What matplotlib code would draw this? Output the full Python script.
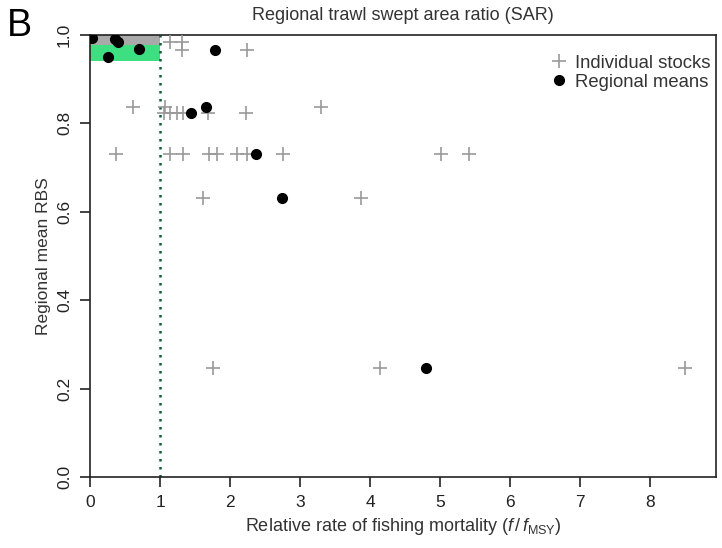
import matplotlib
matplotlib.use('Agg')
import matplotlib.pyplot as plt
from matplotlib.patches import Rectangle

plt.rcParams['font.family'] = ['Liberation Sans', 'DejaVu Sans']
plt.rcParams['mathtext.fontset'] = 'custom'
plt.rcParams['mathtext.rm'] = 'Liberation Sans'
plt.rcParams['mathtext.it'] = 'Liberation Sans:italic'

# individual stocks: relative fishing mortality vs regional mean RBS
stock_f = [1.14, 1.31, 1.31, 2.24,
           0.61, 1.07, 1.05, 1.14, 1.24, 1.33, 1.69, 2.23, 3.30,
           0.37, 1.14, 1.33, 1.70, 1.81, 2.10, 2.24, 2.75, 5.01, 5.41,
           1.61, 3.87,
           1.76, 4.14, 8.50]
stock_rbs = [0.985, 0.985, 0.966, 0.966,
             0.836, 0.838, 0.824, 0.824, 0.824, 0.824, 0.824, 0.824, 0.836,
             0.731, 0.731, 0.731, 0.731, 0.731, 0.731, 0.731, 0.731, 0.731, 0.731,
             0.632, 0.632,
             0.246, 0.246, 0.246]

# regional means
region_f = [0.03, 0.36, 0.40, 0.70, 0.25, 1.78, 1.44, 1.66, 2.37, 2.74, 4.80]
region_rbs = [0.994, 0.990, 0.985, 0.968, 0.950, 0.966, 0.824, 0.836, 0.731, 0.632, 0.246]

x_ticks = [0, 1, 2, 3, 4, 5, 6, 7, 8]
y_ticks = [0.0, 0.2, 0.4, 0.6, 0.8, 1.0]

fig = plt.figure(figsize=(7.22, 5.48), dpi=100)
ax = fig.add_axes([0.1247, 0.1296, 0.8670, 0.8065])

# target zone boxes in the top-left corner
ax.add_patch(Rectangle((0, 0.942), 1, 0.035, color='#3ddf80', lw=0, zorder=1))
ax.add_patch(Rectangle((0, 0.977), 1, 0.023, color='#a9a9a9', lw=0, zorder=1))
ax.axvline(1, color='#145a32', ls=(0, (1, 2.2)), lw=1.8, zorder=2)

ax.plot(stock_f, stock_rbs, ls='none', marker='+', ms=10, mew=1.2,
        color='#999999', label='Individual stocks', zorder=3)
ax.plot(region_f, region_rbs, ls='none', marker='o', ms=7,
        color='black', label='Regional means', zorder=4)

ax.set_xlim(0, 8.94)
ax.set_ylim(0, 1)
ax.set_xticks(x_ticks)
ax.set_yticks(y_ticks)
ax.set_yticklabels([f'{v:.1f}' for v in y_ticks], rotation=90, va='center')
ax.tick_params(direction='out', length=7, width=1.2, labelsize=12.5,
               colors='#222222', pad=6)
for s in ax.spines.values():
    s.set_linewidth(1.2)
    s.set_color('#222222')

ax.set_xlabel(r'Relative rate of fishing mortality ($f\,/\,f_{\rm MSY}$)',
              fontsize=13, color='#333333', labelpad=4)
ax.set_ylabel('Regional mean RBS', fontsize=12.5, color='#333333', labelpad=4)
ax.set_title('Regional trawl swept area ratio (SAR)', fontsize=13,
             color='#333333', pad=11)
fig.text(0.010, 0.935, 'B', fontsize=27, color='black')

ax.legend(loc='upper right', bbox_to_anchor=(1.0, 0.968), frameon=False,
          fontsize=13.3, handletextpad=0.25, borderaxespad=0, borderpad=0.3,
          labelspacing=0.12, handlelength=1.2, labelcolor='#333333')

fig.savefig('out.png', dpi=100)
